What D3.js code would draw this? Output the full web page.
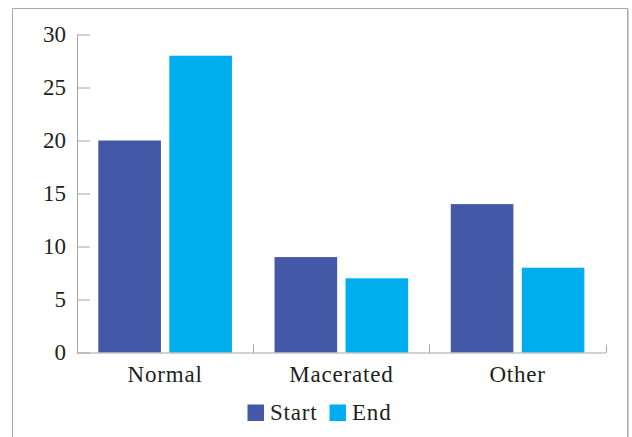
<!DOCTYPE html>
<html>
<head>
<meta charset="utf-8">
<script src="https://cdn.jsdelivr.net/npm/d3@7"></script>
<style>
  html, body { margin: 0; padding: 0; background: #fff; }
  svg text { font-family: "Liberation Serif", "Times New Roman", serif; fill: #231f20; }
</style>
</head>
<body>
<svg id="chart" width="632" height="437"></svg>
<script>
// Wound condition counts at start and end
const categories = ["Normal", "Macerated", "Other"];
const seriesNames = ["Start", "End"];
const startValues = [20, 9, 14];
const endValues = [28, 7, 8];
const yTicks = [0, 5, 10, 15, 20, 25, 30];
const colors = ["#4358a7", "#00aeef"];

const svg = d3.select("#chart");

// outer frame (bottom edge falls outside the canvas)
svg.append("rect")
  .attr("x", 12.5).attr("y", 8.5)
  .attr("width", 615).attr("height", 440)
  .attr("fill", "none").attr("stroke", "#ababab").attr("stroke-width", 1);
svg.append("line")
  .attr("x1", 628.5).attr("x2", 628.5).attr("y1", 9).attr("y2", 437)
  .attr("stroke", "#d0d0d0");

const plot = { left: 77, right: 605.7, top: 34.5, bottom: 352.5 };

const x = d3.scaleBand()
  .domain(categories)
  .range([plot.left, plot.right])
  .paddingInner(0).paddingOuter(0);

const inner = d3.scaleBand()
  .domain(seriesNames)
  .range([21.3, x.bandwidth() - 21.3])
  .paddingInner(0.118);

const y = d3.scaleLinear().domain([0, 30]).range([plot.bottom, plot.top]);

const rows = categories.map((c, i) => ({ category: c, values: [startValues[i], endValues[i]] }));

// bars
const groups = svg.append("g").selectAll("g")
  .data(rows).join("g")
  .attr("transform", d => `translate(${x(d.category)},0)`);

groups.selectAll("rect")
  .data(d => d.values.map((v, j) => ({ name: seriesNames[j], value: v, j })))
  .join("rect")
  .attr("x", d => inner(d.name))
  .attr("width", inner.bandwidth())
  .attr("y", d => y(d.value))
  .attr("height", d => y(0) - y(d.value))
  .attr("fill", d => colors[d.j]);

// y axis
const yAxis = svg.append("g")
  .attr("transform", `translate(${plot.left},0)`)
  .call(d3.axisRight(y).tickValues(yTicks).tickSize(13).tickFormat(""));
yAxis.select(".domain").attr("stroke", "#a6a6a6").attr("d", `M0.5,${plot.top}V${plot.bottom}`);
yAxis.selectAll(".tick line").attr("stroke", "#a6a6a6");

svg.append("g").selectAll("text")
  .data(yTicks).join("text")
  .attr("x", 66).attr("y", d => y(d) + 7.5)
  .attr("text-anchor", "end")
  .attr("font-size", 23)
  .text(d => d);

// x axis with boundary ticks
const xAxisG = svg.append("g").attr("transform", `translate(0,${plot.bottom})`);
xAxisG.append("line")
  .attr("x1", plot.left).attr("x2", plot.right)
  .attr("y1", 0.5).attr("y2", 0.5)
  .attr("stroke", "#a6a6a6");
const boundaries = categories.map(c => x(c) + x.bandwidth()).concat([plot.left]);
xAxisG.selectAll("line.b")
  .data(boundaries).join("line")
  .attr("class", "b")
  .attr("x1", d => Math.round(d) + 0.5).attr("x2", d => Math.round(d) + 0.5)
  .attr("y1", 0.5).attr("y2", -8)
  .attr("stroke", "#a6a6a6");

svg.append("g").selectAll("text")
  .data(categories).join("text")
  .attr("x", d => x(d) + x.bandwidth() / 2)
  .attr("y", 382)
  .attr("text-anchor", "middle")
  .attr("font-size", 23)
  .attr("letter-spacing", "0.8px")
  .text(d => d);

// legend
const legendItems = [
  { name: seriesNames[0], color: colors[0], sx: 247.5, tx: 270 },
  { name: seriesNames[1], color: colors[1], sx: 329.5, tx: 352 }
];
const lg = svg.append("g").selectAll("g").data(legendItems).join("g");
lg.append("rect")
  .attr("x", d => d.sx).attr("y", 404.5)
  .attr("width", 16.5).attr("height", 16.5)
  .attr("fill", d => d.color);
lg.append("text")
  .attr("x", d => d.tx).attr("y", 420)
  .attr("font-size", 23)
  .attr("letter-spacing", "0.8px")
  .text(d => d.name);
</script>
</body>
</html>
